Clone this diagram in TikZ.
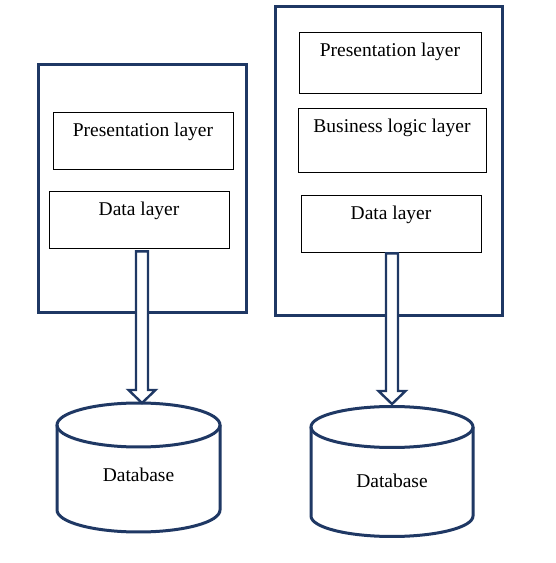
\documentclass[tikz,border=0pt]{standalone}
\usepackage{fontspec}
\setmainfont{Liberation Serif}
\definecolor{navy}{RGB}{31,56,100}
\begin{document}
\begin{tikzpicture}[x=1pt, y=1pt,
  tier/.style={draw=navy, line width=3pt},
  layer/.style={draw=black, line width=0.9pt, minimum width=180pt, minimum height=57pt, inner sep=0pt},
  caption/.style={anchor=north, yshift=-8pt, font=\fontsize{19.5}{23}\selectfont},
  dbline/.style={draw=navy, line width=3pt},
  flow/.style={draw=navy, line width=2.4pt, fill=white, line join=miter}]
\useasboundingbox (0,0) rectangle (555,563);

% Two-tier (left)
\draw[tier] (38,250) rectangle (246,498);
\node[layer, label={[caption]north:Presentation layer}] (lpres) at (143,422.5) {};
\node[layer, label={[caption]north:Data layer}] (ldata) at (139,343.5) {};

% Three-tier (right)
\draw[tier] (275,247) rectangle (502,556);
\node[layer, minimum width=182pt, minimum height=61pt, label={[caption]north:Presentation layer}] (rpres) at (390,500.5) {};
\node[layer, minimum width=188pt, minimum height=64pt, label={[caption]north:Business logic layer}] (rlogic) at (392,423) {};
\node[layer, label={[caption]north:Data layer}] (rdata) at (391,339.5) {};

% Databases
\draw[dbline, fill=white] (57,138) -- (57,53) arc[start angle=180, end angle=360, x radius=81.5, y radius=22] -- (220,138);
\draw[dbline] (138.5,138) ellipse [x radius=81.5, y radius=22];
\coordinate (ltop) at (142,160);
\node[font=\fontsize{19.5}{23}\selectfont] (ldb) at (138.5,88) {Database};

\draw[dbline, fill=white] (311,136) -- (311,47) arc[start angle=180, end angle=360, x radius=81, y radius=20.5] -- (473,136);
\draw[dbline] (392,136) ellipse [x radius=81, y radius=20.5];
\coordinate (rtop) at (392,159);
\node[font=\fontsize{19.5}{23}\selectfont] (rdb) at (392,82) {Database};

% Arrows
\draw[flow] ([xshift=-3pt,yshift=-3pt]ldata.south) -- ([xshift=-6pt,yshift=13pt]ltop) -- ([xshift=-13.5pt,yshift=13pt]ltop) -- (ltop)
  -- ([xshift=13.5pt,yshift=13pt]ltop) -- ([xshift=6pt,yshift=13pt]ltop) -- ([xshift=9pt,yshift=-3pt]ldata.south) -- cycle;
\draw[flow] ([xshift=-5pt,yshift=-1pt]rdata.south) -- ([xshift=-6pt,yshift=13pt]rtop) -- ([xshift=-13.5pt,yshift=13pt]rtop) -- (rtop)
  -- ([xshift=13.5pt,yshift=13pt]rtop) -- ([xshift=6pt,yshift=13pt]rtop) -- ([xshift=7pt,yshift=-1pt]rdata.south) -- cycle;
\end{tikzpicture}
\end{document}
